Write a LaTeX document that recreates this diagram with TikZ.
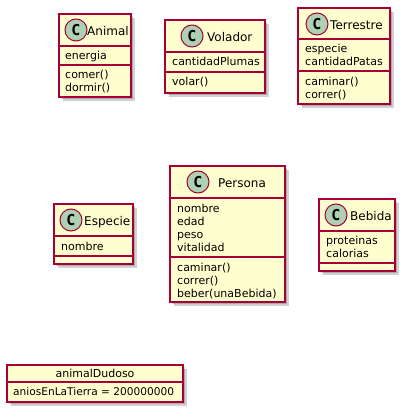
\documentclass[tikz,border=0pt]{standalone}
\usepackage{fontspec}
\setmainfont{DejaVu Sans}
\newfontfamily\iconfont{DejaVu Sans Mono}
\usepackage{xcolor}
\definecolor{umlfill}{HTML}{FEFECE}
\definecolor{umlborder}{HTML}{A80036}
\definecolor{classicon}{HTML}{ADD1B2}

\begin{document}
\begin{tikzpicture}[x=1pt, y=-1pt,
  box/.style={draw=umlborder, fill=umlfill, line width=1.3pt},
  sep/.style={draw=umlborder, line width=1.3pt},
  shade/.style={fill=black, opacity=0.18},
  icon/.style={circle, draw=umlborder, fill=classicon, line width=1pt, minimum size=22pt, inner sep=0pt, font=\iconfont\fontsize{15}{15}\selectfont\bfseries},
  title/.style={anchor=base west, inner sep=0pt, font=\fontsize{12}{14}\selectfont},
  member/.style={anchor=base west, inner sep=0pt, font=\fontsize{11}{13}\selectfont}]

  \useasboundingbox (0,0) rectangle (412,419);

  % Animal
  \fill[shade, shift={(2,2)}] (59,14) rectangle (131,97);
  \fill[shade, shift={(4,4)}] (59,14) rectangle (131,97);
  \draw[box] (59,14) rectangle (131,97);
  \draw[sep] (59,46) -- (131,46);
  \draw[sep] (59,65) -- (131,65);
  \node[icon] (animalIcon) at (76,30) {C};
  \node[title] (animal) at (87,35.5) {Animal};
  \node[member] (animalEnergia) at (65,60) {energia};
  \node[member] (animalComer) at (65,79) {comer()};
  \node[member] (animalDormir) at (65,92) {dormir()};

  % Volador
  \fill[shade, shift={(2,2)}] (165,20) rectangle (265,93);
  \fill[shade, shift={(4,4)}] (165,20) rectangle (265,93);
  \draw[box] (165,20) rectangle (265,93);
  \draw[sep] (165,52) -- (265,52);
  \draw[sep] (165,72) -- (265,72);
  \node[icon] (voladorIcon) at (192,36) {C};
  \node[title] (volador) at (207,41.5) {Volador};
  \node[member] (voladorPlumas) at (172,65.5) {cantidadPlumas};
  \node[member] (voladorVolar) at (172,85.5) {volar()};

  % Terrestre
  \fill[shade, shift={(2,2)}] (298,8) rectangle (390,104);
  \fill[shade, shift={(4,4)}] (298,8) rectangle (390,104);
  \draw[box] (298,8) rectangle (390,104);
  \draw[sep] (298,39) -- (390,39);
  \draw[sep] (298,71) -- (390,71);
  \node[icon] (terrestreIcon) at (317,24) {C};
  \node[title] (terrestre) at (330,29.5) {Terrestre};
  \node[member] (terrestreEspecie) at (305,52.5) {especie};
  \node[member] (terrestrePatas) at (305,65.5) {cantidadPatas};
  \node[member] (terrestreCaminar) at (305,85.5) {caminar()};
  \node[member] (terrestreCorrer) at (305,98.5) {correr()};

  % Especie
  \fill[shade, shift={(2,2)}] (54,204) rectangle (133,264);
  \fill[shade, shift={(4,4)}] (54,204) rectangle (133,264);
  \draw[box] (54,204) rectangle (133,264);
  \draw[sep] (54,236) -- (133,236);
  \draw[sep] (54,256) -- (133,256);
  \node[icon] (especieIcon) at (71,220) {C};
  \node[title] (especie) at (84,225.5) {Especie};
  \node[member] (especieNombre) at (61,250.5) {nombre};

  % Persona
  \fill[shade, shift={(2,2)}] (170,166) rectangle (285,302);
  \fill[shade, shift={(4,4)}] (170,166) rectangle (285,302);
  \draw[box] (170,166) rectangle (285,302);
  \draw[sep] (170,198) -- (285,198);
  \draw[sep] (170,257) -- (285,257);
  \node[icon] (personaIcon) at (198,182) {C};
  \node[title] (persona) at (218,187.5) {Persona};
  \node[member] (personaNombre) at (177,212) {nombre};
  \node[member] (personaEdad) at (177,225) {edad};
  \node[member] (personaPeso) at (177,238) {peso};
  \node[member] (personaVitalidad) at (177,251) {vitalidad};
  \node[member] (personaCaminar) at (177,271) {caminar()};
  \node[member] (personaCorrer) at (177,284) {correr()};
  \node[member] (personaBeber) at (177,297) {beber(unaBebida)};

  % Bebida
  \fill[shade, shift={(2,2)}] (319,199) rectangle (395,271);
  \fill[shade, shift={(4,4)}] (319,199) rectangle (395,271);
  \draw[box] (319,199) rectangle (395,271);
  \draw[sep] (319,231) -- (395,231);
  \draw[sep] (319,263) -- (395,263);
  \node[icon] (bebidaIcon) at (336,215) {C};
  \node[title] (bebida) at (350,220.5) {Bebida};
  \node[member] (bebidaProteinas) at (326,244.5) {proteinas};
  \node[member] (bebidaCalorias) at (326,257.5) {calorias};

  % animalDudoso
  \fill[shade, shift={(2,2)}] (7,365) rectangle (183,402);
  \fill[shade, shift={(4,4)}] (7,365) rectangle (183,402);
  \draw[box] (7,365) rectangle (183,402);
  \draw[sep] (7,382) -- (183,382);
  \node[member, anchor=base] (dudoso) at (95,377.5) {animalDudoso};
  \node[member, font=\fontsize{10.6}{13}\selectfont] (dudosoAnios) at (13,395.5) {aniosEnLaTierra = 200000000};

\end{tikzpicture}
\end{document}
